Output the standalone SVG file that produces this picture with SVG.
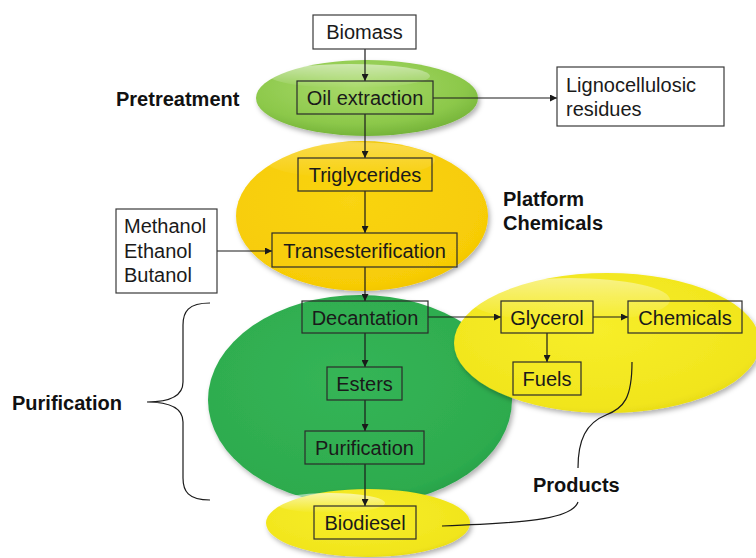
<svg xmlns="http://www.w3.org/2000/svg" width="756" height="558" viewBox="0 0 756 558">
<style>
.box{fill:none;stroke:#2b2b2b;stroke-width:1.2}
.wbox{fill:#fff;stroke:#3a3a3a;stroke-width:1.2}
.t{font-family:"Liberation Sans",Arial,sans-serif;font-size:20px;fill:#1a1a1a}
.c{text-anchor:middle}
.lbl{font-family:"Liberation Sans",Arial,sans-serif;font-size:20px;font-weight:bold;fill:#111}
.ln{fill:none;stroke:#1a1a1a;stroke-width:1.2}
.ar{fill:none;stroke:#1a1a1a;stroke-width:1.2;marker-end:url(#ah)}
.hl{fill:url(#hlg)}
</style>
<defs>
<marker id="ah" viewBox="0 0 10 10" refX="10" refY="5" markerWidth="7" markerHeight="7" markerUnits="userSpaceOnUse" orient="auto"><path d="M0,0 L10,5 L0,10 z" fill="#1a1a1a"/></marker>
<filter id="sh" x="-10%" y="-10%" width="125%" height="130%"><feDropShadow dx="2" dy="3" stdDeviation="2.5" flood-color="#000" flood-opacity="0.3"/></filter>
<radialGradient id="gLight" cx="0.45" cy="0.35" r="0.7"><stop offset="0" stop-color="#a9da6a"/><stop offset="0.7" stop-color="#8cc84a"/><stop offset="1" stop-color="#6fae35"/></radialGradient>
<radialGradient id="gGold" cx="0.45" cy="0.4" r="0.7"><stop offset="0" stop-color="#f9d412"/><stop offset="0.8" stop-color="#f7cc06"/><stop offset="1" stop-color="#ecbd00"/></radialGradient>
<radialGradient id="gDark" cx="0.45" cy="0.4" r="0.7"><stop offset="0" stop-color="#35b556"/><stop offset="0.8" stop-color="#2dab4e"/><stop offset="1" stop-color="#1f9442"/></radialGradient>
<radialGradient id="gYel" cx="0.45" cy="0.4" r="0.7"><stop offset="0" stop-color="#f7ee2a"/><stop offset="0.8" stop-color="#f1e51c"/><stop offset="1" stop-color="#dccf10"/></radialGradient>
<linearGradient id="hlg" x1="0" y1="0" x2="0" y2="1"><stop offset="0" stop-color="#fff" stop-opacity="0.75"/><stop offset="1" stop-color="#fff" stop-opacity="0"/></linearGradient>
</defs>

<g id="ell-purification">
<ellipse cx="360" cy="400" rx="152" ry="105" fill="url(#gDark)" filter="url(#sh)"/>
</g>
<g id="ell-products">
<ellipse cx="607" cy="343" rx="153" ry="70" fill="url(#gYel)" filter="url(#sh)"/>
<ellipse class="hl" cx="570" cy="300" rx="100" ry="22" opacity="0.6"/>
</g>
<g id="ell-platform">
<ellipse cx="362" cy="216" rx="126" ry="75" fill="url(#gGold)" filter="url(#sh)"/>
<ellipse class="hl" cx="350" cy="160" rx="85" ry="18" opacity="0.35"/>
</g>
<g id="ell-pretreatment">
<ellipse cx="367" cy="98" rx="111" ry="38" fill="url(#gLight)" filter="url(#sh)"/>
<ellipse class="hl" cx="350" cy="76" rx="80" ry="12" opacity="0.7"/>
</g>
<g id="ell-biodiesel">
<ellipse cx="368" cy="523" rx="102" ry="34" fill="url(#gYel)" filter="url(#sh)"/>
<ellipse class="hl" cx="330" cy="503" rx="55" ry="10" opacity="0.8"/>
</g>

<g id="connectors">
<line class="ar" x1="365" y1="49" x2="365" y2="81"/>
<line class="ar" x1="433" y1="98" x2="557" y2="98"/>
<line class="ar" x1="365" y1="114" x2="365" y2="158"/>
<line class="ar" x1="365" y1="191" x2="365" y2="233"/>
<line class="ar" x1="217" y1="251" x2="272" y2="251"/>
<line class="ar" x1="365" y1="267" x2="365" y2="301"/>
<line class="ar" x1="428" y1="317" x2="501" y2="317"/>
<line class="ar" x1="593" y1="317" x2="628" y2="317"/>
<line class="ar" x1="547" y1="333" x2="547" y2="362"/>
<line class="ar" x1="365" y1="333" x2="365" y2="367"/>
<line class="ar" x1="365" y1="400" x2="365" y2="431"/>
<line class="ar" x1="365" y1="464" x2="365" y2="506"/>
<path class="ln" d="M632,362 C632,398 624,408 606,415 C586,423 578,440 578,468"/>
<path class="ln" d="M578,502 C572,520 520,523 442,526"/>
<path class="ln" d="M210,303 C188,303 183,312 183,325 L183,382 C183,395 172,402 147,402 C172,402 183,409 183,422 L183,478 C183,491 188,500 210,500"/>
</g>

<g id="n-biomass"><rect class="wbox" x="313" y="15" width="103" height="34"/><text class="t c" x="364.5" y="39">Biomass</text></g>
<g id="n-oil"><rect class="box" x="297" y="81" width="136" height="33"/><text class="t c" x="365" y="105">Oil extraction</text></g>
<g id="n-ligno"><rect class="wbox" x="557" y="67" width="167" height="59"/><text class="t" x="566" y="92">Lignocellulosic</text><text class="t" x="566" y="116">residues</text></g>
<g id="n-trig"><rect class="box" x="298" y="158" width="134" height="33"/><text class="t c" x="365" y="182">Triglycerides</text></g>
<g id="n-alc"><rect class="wbox" x="116" y="209" width="101" height="84"/><text class="t" x="124" y="233">Methanol</text><text class="t" x="124" y="258">Ethanol</text><text class="t" x="124" y="282">Butanol</text></g>
<g id="n-trans"><rect class="box" x="272" y="233" width="185" height="34"/><text class="t c" x="364.5" y="258">Transesterification</text></g>
<g id="n-dec"><rect class="box" x="302" y="301" width="126" height="32"/><text class="t c" x="365" y="325">Decantation</text></g>
<g id="n-est"><rect class="box" x="327" y="367" width="75" height="33"/><text class="t c" x="364.5" y="391">Esters</text></g>
<g id="n-pur"><rect class="box" x="305" y="431" width="119" height="33"/><text class="t c" x="364.5" y="455">Purification</text></g>
<g id="n-bio"><rect class="box" x="314" y="506" width="102" height="33"/><text class="t c" x="365" y="530">Biodiesel</text></g>
<g id="n-gly"><rect class="box" x="501" y="301" width="92" height="32"/><text class="t c" x="547" y="325">Glycerol</text></g>
<g id="n-chem"><rect class="box" x="628" y="301" width="114" height="32"/><text class="t c" x="685" y="325">Chemicals</text></g>
<g id="n-fuels"><rect class="box" x="513" y="362" width="68" height="33"/><text class="t c" x="547" y="386">Fuels</text></g>

<g id="labels">
<text class="lbl" x="116" y="106">Pretreatment</text>
<text class="lbl" x="503" y="206">Platform</text>
<text class="lbl" x="503" y="230">Chemicals</text>
<text class="lbl" x="12" y="410">Purification</text>
<text class="lbl" x="533" y="492">Products</text>
</g>
</svg>
